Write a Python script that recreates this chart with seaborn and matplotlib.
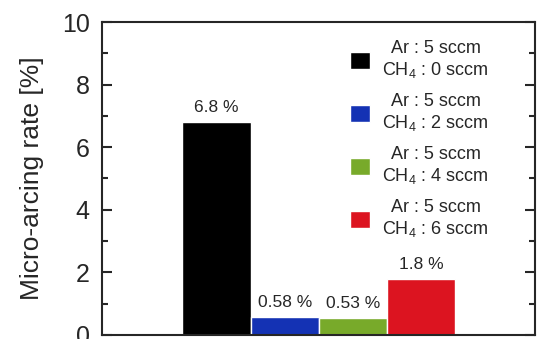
import matplotlib
matplotlib.use("Agg")
import matplotlib.pyplot as plt
import seaborn as sns
import pandas as pd

# micro-arcing rate for each gas condition
conditions = ["Ar : 5 sccm\nCH$_4$ : 0 sccm",
              "Ar : 5 sccm\nCH$_4$ : 2 sccm",
              "Ar : 5 sccm\nCH$_4$ : 4 sccm",
              "Ar : 5 sccm\nCH$_4$ : 6 sccm"]
rates = [6.8, 0.58, 0.53, 1.8]
rate_labels = ["6.8 %", "0.58 %", "0.53 %", "1.8 %"]
colors = ["#000000", "#1432b4", "#78aa2a", "#dc1420"]

df = pd.DataFrame({"condition": conditions, "rate": rates})

sns.set_style("ticks")
plt.rcParams["font.family"] = ["Liberation Sans", "DejaVu Sans"]
plt.rcParams["mathtext.default"] = "regular"

fig = plt.figure(figsize=(5.37, 3.39), dpi=100)
ax = fig.add_axes([0.19, 0.012, 0.806, 0.923])

sns.barplot(data=df, x="condition", y="rate", hue="condition",
            palette=colors, width=1.0, saturation=1, legend=True, ax=ax)

for cont, lab in zip(ax.containers, rate_labels):
    ax.bar_label(cont, labels=[lab], padding=5, fontsize=12.5)

ax.set_xlim(-1.68, 4.67)
ax.set_ylim(0, 10)
ax.set_yticks([0, 2, 4, 6, 8, 10])
ax.set_yticks([1, 3, 5, 7, 9], minor=True)
ax.set_xticks([])
ax.set_xlabel("")
ax.set_ylabel("Micro-arcing rate [%]", fontsize=19, labelpad=13)
ax.tick_params(axis="y", which="both", direction="in", right=True,
               labelsize=18, width=1.5, pad=9)
ax.tick_params(axis="y", which="major", length=7)
ax.tick_params(axis="y", which="minor", length=4)
for s in ax.spines.values():
    s.set_visible(True)
    s.set_linewidth(1.5)

leg = ax.legend(loc="upper left", bbox_to_anchor=(0.535, 0.995), frameon=False,
                fontsize=13, handlelength=1.1, handleheight=1.1,
                labelspacing=0.72, handletextpad=0.7)
for t in leg.get_texts():
    t.set_multialignment("center")

fig.savefig("out.png", dpi=100, facecolor="white")
